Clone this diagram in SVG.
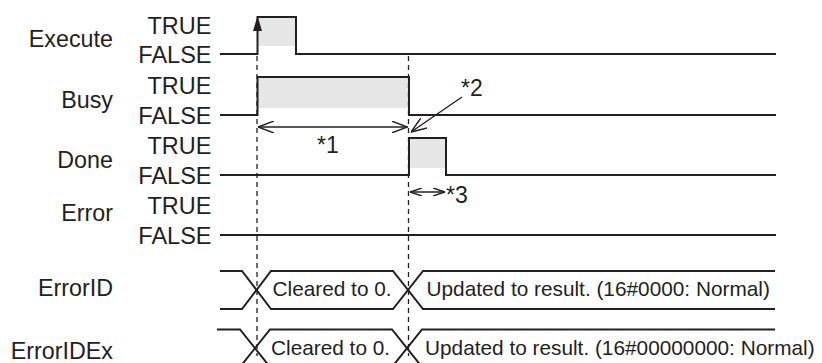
<svg xmlns="http://www.w3.org/2000/svg" width="822" height="363" viewBox="0 0 822 363">
<style>
  .lbl{font-family:"Liberation Sans",Arial,sans-serif;font-size:23.3px;fill:#231f20;text-anchor:end}
  .st{font-family:"Liberation Sans",Arial,sans-serif;font-size:23.5px;fill:#231f20;text-anchor:end}
  .bus{font-family:"Liberation Sans",Arial,sans-serif;font-size:20.8px;fill:#231f20}
  .note{font-family:"Liberation Sans",Arial,sans-serif;font-size:23px;fill:#231f20}
  .sig{fill:none;stroke:#231f20;stroke-width:2}
  .shade{fill:#e6e6e7;stroke:none}
  .dash{fill:none;stroke:#231f20;stroke-width:1.3;stroke-dasharray:5 4}
  .arr{fill:none;stroke:#231f20;stroke-width:1.4}
</style>
<defs>
  <marker id="chev" viewBox="0 0 16 12" refX="16" refY="6" markerWidth="16" markerHeight="12" markerUnits="userSpaceOnUse" orient="auto-start-reverse">
    <path d="M0,0 L16,6 L0,12" fill="none" stroke="#231f20" stroke-width="1.4"/>
  </marker>
  <marker id="chevs" viewBox="0 0 12 8" refX="12" refY="4" markerWidth="12" markerHeight="8" markerUnits="userSpaceOnUse" orient="auto-start-reverse">
    <path d="M0,0 L12,4 L0,8" fill="none" stroke="#231f20" stroke-width="1.4"/>
  </marker>
</defs>

<g id="execute">
  <text class="lbl" x="113" y="47">Execute</text>
  <text class="st" x="211.5" y="33.5">TRUE</text>
  <text class="st" x="211.5" y="62.5">FALSE</text>
  <rect class="shade" x="258" y="16" width="38" height="30"/>
  <path class="sig" d="M220,54 H257.5 V17 H296 V54 H776"/>
  <polygon points="257.5,16 253,31 262,31" fill="#231f20"/>
</g>

<g id="busy">
  <text class="lbl" x="113" y="108">Busy</text>
  <text class="st" x="211.5" y="94">TRUE</text>
  <text class="st" x="211.5" y="123.5">FALSE</text>
  <rect class="shade" x="258" y="77" width="151" height="31"/>
  <path class="sig" d="M220,115 H257.5 V77 H409 V115 H776"/>
</g>

<g id="done">
  <text class="lbl" x="113" y="168">Done</text>
  <text class="st" x="211.5" y="154">TRUE</text>
  <text class="st" x="211.5" y="183.5">FALSE</text>
  <rect class="shade" x="409" y="138" width="37" height="30"/>
  <path class="sig" d="M220,175 H409 V138 H446 V175 H776"/>
</g>

<g id="error">
  <text class="lbl" x="113" y="221">Error</text>
  <text class="st" x="211.5" y="214">TRUE</text>
  <text class="st" x="211.5" y="243.5">FALSE</text>
  <path class="sig" d="M220,235 H776"/>
</g>

<g id="errorid">
  <text class="lbl" x="113" y="296">ErrorID</text>
  <path class="sig" d="M220,271 H242 L271,309 H393 L423,271 H775"/>
  <path class="sig" d="M220,309 H242 L271,271 H393 L423,309 H775"/>
  <text class="bus" x="272.5" y="296">Cleared to 0.</text>
  <text class="bus" x="426.5" y="296">Updated to result. (16#0000: Normal)</text>
</g>

<g id="errorid-ex">
  <text class="lbl" x="113" y="359">ErrorIDEx</text>
  <path class="sig" d="M217,329.5 H240 L270,367"/>
  <path class="sig" d="M240,367 L270,329.5 H392 L422,367"/>
  <path class="sig" d="M392,367 L422,329.5 H775"/>
  <text class="bus" x="271" y="354.5">Cleared to 0.</text>
  <text class="bus" x="425" y="354.5">Updated to result. (16#00000000: Normal)</text>
</g>

<g id="connectors">
  <line class="dash" x1="257" y1="56" x2="257" y2="356"/>
  <line class="dash" x1="408.5" y1="56" x2="408.5" y2="356"/>
  <line class="arr" x1="258" y1="127" x2="407.5" y2="127" marker-start="url(#chev)" marker-end="url(#chev)"/>
  <line class="arr" x1="462" y1="97" x2="411" y2="132" marker-end="url(#chev)"/>
  <line class="arr" x1="410" y1="192" x2="445" y2="192" marker-start="url(#chevs)" marker-end="url(#chevs)"/>
</g>

<g id="notes">
  <text class="note" x="317" y="153">*1</text>
  <text class="note" x="461" y="96">*2</text>
  <text class="note" x="446" y="203">*3</text>
</g>
</svg>
